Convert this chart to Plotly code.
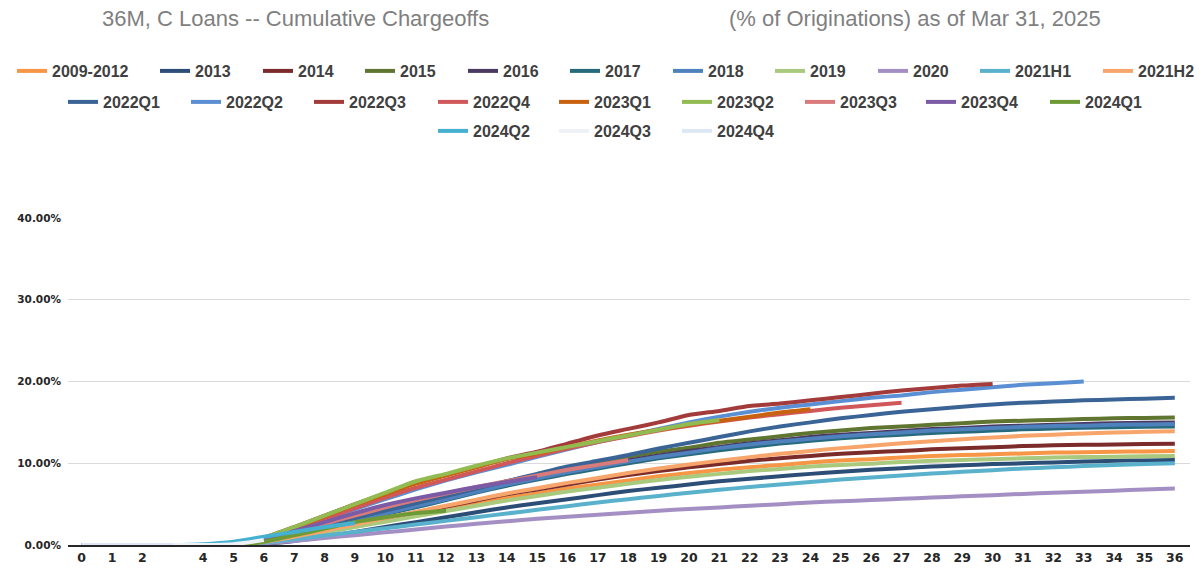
import plotly.graph_objects as go

months = list(range(37))
x_tick_vals = [0, 1, 2] + list(range(4, 37))
x_tick_text = [str(v) for v in x_tick_vals]
y_tick_vals = [0, 10, 20, 30, 40]
y_tick_text = ["0.00%", "10.00%", "20.00%", "30.00%", "40.00%"]

series_names_row1 = ["2009-2012", "2013", "2014", "2015", "2016", "2017", "2018", "2019", "2020", "2021H1", "2021H2"]
series_names_row2 = ["2022Q1", "2022Q2", "2022Q3", "2022Q4", "2023Q1", "2023Q2", "2023Q3", "2023Q4", "2024Q1"]
series_names_row3 = ["2024Q2", "2024Q3", "2024Q4"]

# cumulative chargeoffs, % of originations, by month on book (0..N)
s2009_2012 = [0, 0, 0, 0, 0, 0, 0.35, 0.9, 1.6, 2.3, 3.0, 3.7, 4.4, 5.1, 5.75, 6.3, 6.9, 7.4, 7.9, 8.4, 8.8, 9.2, 9.5, 9.8, 10.1, 10.35, 10.5, 10.7, 10.9, 11.0, 11.1, 11.2, 11.3, 11.35, 11.4, 11.45, 11.5]
s2013 = [0, 0, 0, 0, 0, 0, 0.15, 0.5, 1.0, 1.6, 2.2, 2.8, 3.4, 4.0, 4.6, 5.1, 5.6, 6.1, 6.6, 7.0, 7.4, 7.8, 8.1, 8.4, 8.7, 8.95, 9.2, 9.4, 9.6, 9.75, 9.9, 10.0, 10.1, 10.2, 10.3, 10.35, 10.4]
s2014 = [0, 0, 0, 0, 0, 0, 0.35, 1.0, 1.7, 2.5, 3.2, 4.0, 4.7, 5.45, 6.2, 6.8, 7.4, 8.0, 8.55, 9.05, 9.5, 9.9, 10.3, 10.6, 10.9, 11.15, 11.35, 11.5, 11.7, 11.85, 11.95, 12.1, 12.2, 12.25, 12.3, 12.35, 12.4]
s2015 = [0, 0, 0, 0, 0, 0, 0.5, 1.2, 2.2, 3.1, 4.1, 5.0, 5.9, 6.9, 7.8, 8.6, 9.4, 10.1, 10.8, 11.4, 11.9, 12.5, 12.9, 13.3, 13.7, 14.0, 14.3, 14.5, 14.7, 14.9, 15.1, 15.2, 15.3, 15.4, 15.5, 15.55, 15.6]
s2016 = [0, 0, 0, 0, 0, 0, 0.45, 1.2, 2.1, 3.0, 3.9, 4.8, 5.7, 6.6, 7.5, 8.25, 9.0, 9.7, 10.35, 10.95, 11.5, 12.0, 12.45, 12.8, 13.2, 13.5, 13.7, 13.95, 14.2, 14.3, 14.5, 14.6, 14.7, 14.8, 14.9, 14.95, 15.0]
s2017 = [0, 0, 0, 0, 0, 0, 0.45, 1.15, 2.0, 2.9, 3.8, 4.6, 5.5, 6.4, 7.25, 8.0, 8.7, 9.35, 10.0, 10.6, 11.1, 11.6, 12.0, 12.4, 12.75, 13.05, 13.3, 13.5, 13.7, 13.85, 14.0, 14.15, 14.25, 14.35, 14.4, 14.45, 14.5]
s2018 = [0, 0, 0, 0, 0, 0, 0.45, 1.2, 2.1, 3.0, 3.85, 4.75, 5.6, 6.5, 7.4, 8.15, 8.9, 9.55, 10.2, 10.8, 11.3, 11.85, 12.3, 12.65, 13.0, 13.3, 13.55, 13.75, 14.0, 14.15, 14.3, 14.45, 14.55, 14.6, 14.7, 14.75, 14.8]
s2019 = [0, 0, 0, 0, 0, 0, 0.3, 0.85, 1.5, 2.2, 2.85, 3.5, 4.15, 4.8, 5.45, 6.0, 6.55, 7.0, 7.5, 7.95, 8.35, 8.7, 9.05, 9.3, 9.6, 9.8, 9.95, 10.15, 10.3, 10.4, 10.5, 10.6, 10.7, 10.75, 10.8, 10.85, 10.9]
s2020 = [0, 0, 0, 0, 0, 0, 0.2, 0.5, 0.85, 1.2, 1.55, 1.9, 2.25, 2.6, 2.9, 3.2, 3.45, 3.7, 3.95, 4.2, 4.4, 4.6, 4.8, 5.0, 5.2, 5.35, 5.5, 5.65, 5.8, 5.95, 6.1, 6.25, 6.4, 6.5, 6.65, 6.8, 6.9]
s2021H1 = [0, 0, 0, 0, 0, 0, 0.3, 0.7, 1.15, 1.6, 2.05, 2.5, 2.95, 3.4, 3.85, 4.3, 4.75, 5.2, 5.6, 6.0, 6.4, 6.75, 7.1, 7.4, 7.7, 8.0, 8.25, 8.5, 8.75, 8.95, 9.15, 9.35, 9.5, 9.65, 9.8, 9.9, 10.0]
s2021H2 = [0, 0, 0, 0, 0, 0, 0.4, 1.0, 1.75, 2.5, 3.3, 4.05, 4.8, 5.55, 6.3, 6.95, 7.6, 8.2, 8.8, 9.35, 9.85, 10.3, 10.75, 11.15, 11.5, 11.85, 12.15, 12.45, 12.7, 12.95, 13.15, 13.35, 13.5, 13.65, 13.75, 13.85, 13.9]
s2022Q1 = [0, 0, 0, 0, 0, 0, 0.5, 1.4, 2.4, 3.3, 4.2, 5.1, 6.0, 6.9, 7.8, 8.7, 9.6, 10.3, 11.0, 11.8, 12.5, 13.2, 13.9, 14.5, 15.0, 15.5, 15.9, 16.3, 16.6, 16.9, 17.2, 17.4, 17.55, 17.7, 17.8, 17.9, 18.0]
s2022Q2 = [0, 0, 0, 0, 0, 0, 0.6, 1.8, 3.1, 4.4, 5.6, 6.8, 7.9, 8.9, 9.8, 10.8, 11.7, 12.6, 13.4, 14.2, 15.0, 15.7, 16.3, 16.8, 17.2, 17.6, 18.0, 18.3, 18.7, 19.0, 19.3, 19.6, 19.8, 20.0]
s2022Q3 = [0, 0, 0, 0, 0, 0, 0.9, 2.2, 3.6, 5.0, 6.3, 7.6, 8.6, 9.6, 10.6, 11.4, 12.4, 13.4, 14.2, 15.0, 15.9, 16.4, 17.0, 17.3, 17.7, 18.1, 18.5, 18.9, 19.2, 19.5, 19.7]
s2022Q4 = [0, 0, 0, 0, 0, 0, 0.7, 1.9, 3.2, 4.5, 5.8, 7.0, 8.0, 9.0, 10.0, 10.9, 11.8, 12.6, 13.3, 14.0, 14.6, 15.1, 15.6, 16.0, 16.4, 16.8, 17.1, 17.4]
s2023Q1 = [0, 0, 0, 0, 0, 0, 0.8, 2.1, 3.5, 4.9, 6.2, 7.5, 8.5, 9.5, 10.5, 11.2, 12.0, 12.8, 13.5, 14.1, 14.7, 15.2, 15.7, 16.2, 16.6]
s2023Q2 = [0, 0, 0, 0, 0, 0, 0.9, 2.2, 3.6, 5.0, 6.4, 7.8, 8.7, 9.7, 10.6, 11.3, 12.0, 12.7, 13.4, 14.1, 14.8, 15.3]
s2023Q3 = [0, 0, 0, 0, 0, 0, 0.5, 1.5, 2.6, 3.6, 4.6, 5.5, 6.3, 7.1, 7.8, 8.5, 9.2, 9.8, 10.4]
s2023Q4 = [0, 0, 0, 0, 0, 0, 0.6, 1.7, 2.8, 3.9, 4.9, 5.7, 6.4, 7.1, 7.7, 8.3]
s2024Q1 = [0, 0, 0, 0, 0, 0, 0.4, 1.2, 2.0, 2.8, 3.4, 3.9, 4.2]
s2024Q2 = [0, 0, 0, 0, 0.1, 0.4, 1.0, 1.6, 2.2, 2.7]
s2024Q3 = [0, 0, 0, 0, 0, 0.1, 0.6]
s2024Q4 = [0, 0, 0, 0]

series_values = [s2009_2012, s2013, s2014, s2015, s2016, s2017, s2018, s2019, s2020, s2021H1, s2021H2,
                 s2022Q1, s2022Q2, s2022Q3, s2022Q4, s2023Q1, s2023Q2, s2023Q3, s2023Q4, s2024Q1,
                 s2024Q2, s2024Q3, s2024Q4]

series_colors = ["#F79646", "#2C4D75", "#7A2B2A", "#5F7530", "#4A3960", "#276A7C", "#4F81BD", "#A9C97E",
                 "#A48FC4", "#5AB1CB", "#F7A56B",
                 "#3B6496", "#5B8FD3", "#A23B3A", "#D0585A", "#C9620F", "#92BB52", "#D97B7B", "#7B5BA6",
                 "#6E9A36",
                 "#45B0D0", "#EEF1F5", "#DDE7F3"]

all_names = series_names_row1 + series_names_row2 + series_names_row3

# legend layout (pixel positions of each entry's label start, and row centre)
legend_text_x = ([52, 195, 298, 400, 503, 605, 708, 810, 913, 1015, 1138]
                 + [103, 226, 349, 473, 594, 717, 840, 961, 1085]
                 + [473, 594, 717])
legend_row_y = [71] * 11 + [102] * 9 + [131] * 3

W, H = 1203, 572
ML, MR, MT, MB = 68, 13, 218, 27
pw = W - ML - MR
ph = H - MT - MB


def px_x(px):
    return (px - ML) / pw


def px_y(py):
    return (H - MB - py) / ph


fig = go.Figure()
legend_layouts = {}
leg_font = dict(family="Liberation Sans, Arial, sans-serif", size=16, color="#404040", weight="bold")
for i, (name, vals, col) in enumerate(zip(all_names, series_values, series_colors)):
    lid = "legend" if i == 0 else f"legend{i + 1}"
    fig.add_trace(go.Scatter(
        x=months[:len(vals)], y=vals, mode="lines", name=name, legend=lid,
        line=dict(color=col, width=4, shape="spline", smoothing=0.6),
    ))
    legend_layouts[lid] = dict(
        x=px_x(legend_text_x[i] - 40), y=px_y(legend_row_y[i]), xanchor="left", yanchor="middle",
        orientation="h", font=leg_font, bgcolor="rgba(0,0,0,0)", itemwidth=30,
    )

fig.update_layout(
    width=W, height=H,
    margin=dict(l=ML, r=MR, t=MT, b=MB, autoexpand=False),
    paper_bgcolor="white", plot_bgcolor="white",
    showlegend=True,
    xaxis=dict(
        range=[-0.45, 36.5], tickmode="array", tickvals=x_tick_vals, ticktext=x_tick_text,
        showgrid=False, zeroline=False, showline=True, linecolor="#262626", linewidth=1.5,
        ticks="", automargin=False,
        tickfont=dict(family="DejaVu Sans, sans-serif", size=12.5, color="#262626", weight="bold"),
    ),
    yaxis=dict(
        range=[0, 40], tickmode="array", tickvals=y_tick_vals, ticktext=y_tick_text,
        showgrid=True, gridcolor="#D9D9D9", gridwidth=1, zeroline=False, showline=False, ticks="",
        automargin=False, ticklabelstandoff=6,
        tickfont=dict(family="DejaVu Sans, sans-serif", size=10.5, color="#262626", weight="bold"),
    ),
    annotations=[
        dict(text="36M, C Loans -- Cumulative Chargeoffs", x=px_x(295), y=px_y(18), xref="paper", yref="paper",
             showarrow=False, xanchor="center", yanchor="middle",
             font=dict(family="Liberation Sans Narrow, Liberation Sans, Arial", size=22, color="#7F7F7F")),
        dict(text="(% of Originations) as of Mar 31, 2025", x=px_x(915), y=px_y(18), xref="paper", yref="paper",
             showarrow=False, xanchor="center", yanchor="middle",
             font=dict(family="Liberation Sans Narrow, Liberation Sans, Arial", size=22, color="#7F7F7F")),
    ],
    **legend_layouts,
)

fig.write_html("out.html", config={"displayModeBar": False},
               post_script="document.body.style.margin='0px';document.body.style.overflow='hidden';")
